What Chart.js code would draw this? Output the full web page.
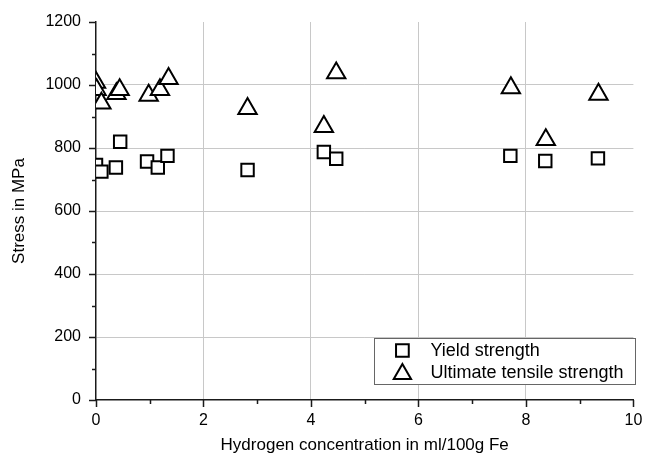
<!DOCTYPE html>
<html>
<head>
<meta charset="utf-8">
<title>Stress vs hydrogen concentration</title>
<script src="https://cdn.jsdelivr.net/npm/chart.js@4/dist/chart.umd.min.js"></script>
<style>
  html, body { margin: 0; padding: 0; background: #fff; }
  #wrap { width: 646px; height: 456px; }
</style>
</head>
<body>
<div id="wrap"><canvas id="chart" width="646" height="456"></canvas></div>
<script>
// Hydrogen concentration (ml/100g Fe) and measured strengths (MPa)
const yieldX = [0, 0.1, 0.37, 0.45, 0.95, 1.15, 1.33, 2.82, 4.24, 4.47, 7.71, 8.36, 9.34];
const yieldY = [746, 725, 738, 820, 757, 738, 775, 730, 787, 766, 775, 759, 767];
const utsX = [0, 0.01, 0.1, 0.38, 0.44, 0.98, 1.19, 1.35, 2.82, 4.24, 4.47, 7.72, 8.37, 9.35];
const utsY = [1008, 985, 942, 972, 985, 967, 985, 1020, 925, 868, 1038, 991, 826, 970];

const seriesLabels = ['Yield strength', 'Ultimate tensile strength'];
const xTitle = 'Hydrogen concentration in ml/100g Fe';
const yTitle = 'Stress in MPa';
const xRange = { min: 0, max: 10, step: 2, minor: 1 };
const yRange = { min: 0, max: 1200, step: 200, minor: 100 };

const FONT = "'Liberation Sans', Arial, Helvetica, sans-serif";
const AXIS_COLOR = '#1a1a1a';
const GRID_COLOR = '#c8c8c8';

const toPoints = (xs, ys) => xs.map((x, i) => ({ x: x, y: ys[i] }));

// Draw an open marker path (square or triangle) for the legend
function markerPath(ctx, style, cx, cy, r) {
  ctx.beginPath();
  if (style === 'rect') {
    const s = r * Math.SQRT1_2;
    ctx.rect(cx - s, cy - s, 2 * s, 2 * s);
  } else {
    let a = 0;
    ctx.moveTo(cx + Math.sin(a) * r, cy - Math.cos(a) * r);
    a += 2 * Math.PI / 3;
    ctx.lineTo(cx + Math.sin(a) * r, cy - Math.cos(a) * r);
    a += 2 * Math.PI / 3;
    ctx.lineTo(cx + Math.sin(a) * r, cy - Math.cos(a) * r);
    ctx.closePath();
  }
}

const whiteBackground = {
  id: 'whiteBackground',
  beforeDraw(chart) {
    const ctx = chart.ctx;
    ctx.save();
    ctx.fillStyle = '#fff';
    ctx.fillRect(0, 0, chart.width, chart.height);
    ctx.restore();
  }
};

// Major and minor tick marks outside both axes
const axisTicks = {
  id: 'axisTicks',
  beforeDatasetsDraw(chart) {
    const { ctx, chartArea, scales } = chart;
    ctx.save();
    ctx.strokeStyle = AXIS_COLOR;
    ctx.lineWidth = 1.5;
    ctx.beginPath();
    for (let v = xRange.min; v <= xRange.max + 1e-9; v += xRange.minor) {
      const px = Math.round(scales.x.getPixelForValue(v)) + 0.5;
      const len = (Math.round(v) % xRange.step === 0) ? 7 : 4;
      ctx.moveTo(px, chartArea.bottom);
      ctx.lineTo(px, chartArea.bottom + len);
    }
    for (let v = yRange.min; v <= yRange.max + 1e-9; v += yRange.minor) {
      const py = Math.round(scales.y.getPixelForValue(v)) + 0.5;
      const len = (Math.round(v) % yRange.step === 0) ? 7 : 4;
      ctx.moveTo(chartArea.left, py);
      ctx.lineTo(chartArea.left - len, py);
    }
    ctx.stroke();
    ctx.restore();
  }
};

// Boxed legend in the lower right corner of the plot area
const boxLegend = {
  id: 'boxLegend',
  afterDraw(chart) {
    const { ctx, chartArea } = chart;
    const w = 261, h = 46;
    const right = chartArea.right + 2;
    const bottom = chartArea.bottom - 16;
    const left = right - w, top = bottom - h;
    ctx.save();
    ctx.fillStyle = '#fff';
    ctx.fillRect(left, top, w, h);
    ctx.strokeStyle = '#666';
    ctx.lineWidth = 1;
    ctx.strokeRect(Math.round(left) + 0.5, Math.round(top) + 0.5, w, h);
    const rows = [top + 12.5, top + 34.5];
    chart.data.datasets.forEach((ds, i) => {
      const cy = rows[i];
      markerPath(ctx, ds.pointStyle, left + 28, ds.pointStyle === 'rect' ? cy : cy + 1.5, ds.pointStyle === 'rect' ? 9 : 10);
      ctx.fillStyle = '#fff';
      ctx.fill();
      ctx.strokeStyle = '#000';
      ctx.lineWidth = 2;
      ctx.stroke();
      ctx.fillStyle = '#000';
      ctx.font = '18px ' + FONT;
      ctx.textBaseline = 'middle';
      ctx.textAlign = 'left';
      ctx.fillText(ds.label, left + 56, cy + 1);
    });
    ctx.restore();
  }
};

const innerGrid = (lo, hi) => (ctx) => {
  const v = ctx.tick ? ctx.tick.value : null;
  return (v === lo || v === hi) ? 'rgba(0,0,0,0)' : GRID_COLOR;
};

const plainNumber = (v) => String(v);

new Chart(document.getElementById('chart'), {
  type: 'scatter',
  data: {
    datasets: [
      {
        label: seriesLabels[0],
        data: toPoints(yieldX, yieldY),
        pointStyle: 'rect',
        pointRadius: 8.8,
        borderWidth: 2,
        borderColor: '#000',
        backgroundColor: '#fff',
        clip: 0
      },
      {
        label: seriesLabels[1],
        data: toPoints(utsX, utsY),
        pointStyle: 'triangle',
        pointRadius: 10.6,
        borderWidth: 2,
        borderColor: '#000',
        backgroundColor: '#fff',
        clip: 0
      }
    ]
  },
  options: {
    responsive: false,
    animation: false,
    events: [],
    layout: { padding: { top: 22, right: 8, left: 0, bottom: 0 } },
    plugins: {
      legend: { display: false },
      tooltip: { enabled: false }
    },
    scales: {
      x: {
        type: 'linear',
        min: xRange.min,
        max: xRange.max,
        afterFit(scale) {
          scale.height = 56;
          scale.paddingLeft = 0;
          scale.paddingRight = 0;
        },
        ticks: {
          stepSize: xRange.step,
          callback: plainNumber,
          color: '#000',
          font: { family: FONT, size: 16 },
          padding: 11,
          maxRotation: 0
        },
        grid: { color: innerGrid(xRange.min, xRange.max), lineWidth: 1, drawTicks: false },
        border: { display: true, color: AXIS_COLOR, width: 1.5 },
        title: {
          display: true,
          text: xTitle,
          color: '#000',
          font: { family: FONT, size: 17 },
          padding: { top: 0, bottom: 0 }
        }
      },
      y: {
        type: 'linear',
        min: yRange.min,
        max: yRange.max,
        afterFit(scale) {
          scale.width = 96;
          scale.paddingTop = 0;
          scale.paddingBottom = 0;
        },
        ticks: {
          stepSize: yRange.step,
          callback: plainNumber,
          color: '#000',
          font: { family: FONT, size: 16 },
          padding: 15
        },
        grid: { color: innerGrid(yRange.min, yRange.max), lineWidth: 1, drawTicks: false },
        border: { display: true, color: AXIS_COLOR, width: 1.5 },
        title: {
          display: true,
          text: yTitle,
          color: '#000',
          font: { family: FONT, size: 17 },
          padding: { top: 9, bottom: 0 }
        }
      }
    }
  },
  plugins: [whiteBackground, axisTicks, boxLegend]
});
</script>
</body>
</html>
